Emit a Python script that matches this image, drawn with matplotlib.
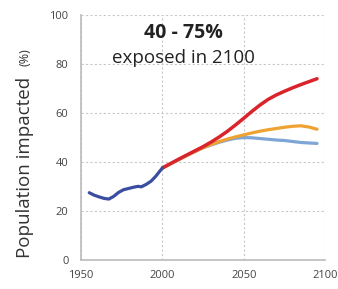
import numpy as np
import matplotlib
matplotlib.use('Agg')
import matplotlib.pyplot as plt

plt.rcParams['font.family'] = ['Open Sans', 'DejaVu Sans']

# historical
hist_years = [1955, 1958, 1961, 1964, 1967, 1970, 1973, 1976, 1979, 1982, 1985, 1987, 1990, 1993, 1996, 1998, 2000]
hist_vals = [27.5, 26.5, 25.8, 25.2, 24.9, 26.0, 27.6, 28.7, 29.2, 29.7, 30.1, 29.9, 30.9, 32.2, 34.3, 36.0, 37.6]

# projections
proj_years = [2000, 2005, 2010, 2015, 2020, 2025, 2030, 2035, 2040, 2045, 2050, 2055, 2060, 2065, 2070, 2075, 2080, 2085, 2090, 2095]
high_vals = [37.6, 39.4, 41.2, 42.9, 44.6, 46.3, 48.2, 50.3, 52.6, 55.2, 57.9, 60.7, 63.3, 65.6, 67.4, 68.9, 70.3, 71.6, 72.8, 74.0]
mid_vals = [37.6, 39.3, 41.0, 42.7, 44.3, 45.9, 47.2, 48.4, 49.4, 50.3, 51.1, 51.9, 52.6, 53.2, 53.7, 54.2, 54.6, 54.8, 54.3, 53.4]
low_vals = [37.6, 39.3, 41.0, 42.7, 44.3, 45.8, 47.0, 48.1, 49.0, 49.7, 50.0, 49.9, 49.6, 49.3, 49.0, 48.8, 48.4, 48.0, 47.8, 47.6]

fig = plt.figure(figsize=(3.38, 2.89), dpi=100)
ax = fig.add_axes([0.24, 0.1, 0.722, 0.848])

ax.plot(proj_years, low_vals, color='#7fa5d6', lw=2.3, solid_capstyle='round')
ax.plot(proj_years, mid_vals, color='#efa232', lw=2.3, solid_capstyle='round')
ax.plot(proj_years, high_vals, color='#d9242b', lw=2.5, solid_capstyle='round')
ax.plot(hist_years, hist_vals, color='#3b4da0', lw=2.3, solid_capstyle='round')

ax.set_xlim(1950, 2100)
ax.set_ylim(0, 100)
ax.set_xticks([1950, 2000, 2050, 2100])
ax.set_yticks([0, 20, 40, 60, 80, 100])
ax.grid(True, ls=(0, (2, 2)), color='#c8c8c8', lw=0.8)
ax.set_axisbelow(True)
for s in ['top', 'right']:
    ax.spines[s].set_visible(False)
for s in ['left', 'bottom']:
    ax.spines[s].set_color('#bbbbbb')
    ax.spines[s].set_linewidth(1.2)
ax.tick_params(length=0, labelsize=8, labelcolor='#444444')
ax.tick_params(axis='y', pad=9)
ax.tick_params(axis='x', pad=7)

fig.text(0.074, 0.107, 'Population impacted', rotation=90, fontsize=13.5,
         color='#333333', ha='center', va='bottom')
fig.text(0.074, 0.77, '(%)', rotation=90, fontsize=9,
         color='#333333', ha='center', va='bottom')

ax.text(0.418, 0.927, '40 - 75%', transform=ax.transAxes, fontsize=14,
        fontweight='bold', ha='center', va='center', color='#222222')
ax.text(0.418, 0.824, 'exposed in 2100', transform=ax.transAxes, fontsize=13.5,
        ha='center', va='center', color='#222222')

fig.savefig('out.png', dpi=100)
